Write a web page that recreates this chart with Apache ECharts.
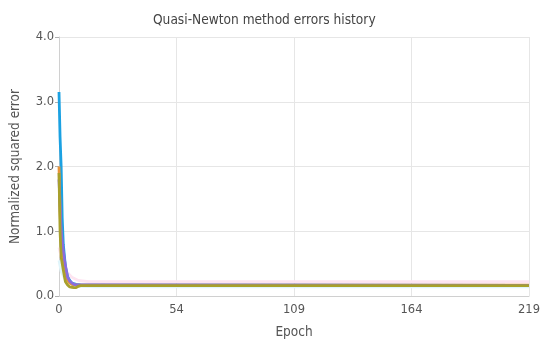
<!DOCTYPE html>
<html>
<head>
<meta charset="utf-8">
<script src="https://cdn.jsdelivr.net/npm/echarts@6/dist/echarts.min.js"></script>
<style>html,body{margin:0;padding:0;background:#fff}#c{width:550px;height:349px}</style>
</head>
<body>
<div id="c"></div>
<script>
var xTickLabels = ['0', '54', '109', '164', '219'];
var yTickLabels = ['0.0', '1.0', '2.0', '3.0', '4.0'];

var pinkX = [0, 1, 2, 4, 6, 9, 14, 219];
var pinkY = [0.75, 0.6, 0.48, 0.36, 0.29, 0.24, 0.22, 0.22];
var cyanX = [0, 1, 3, 6, 10, 18, 219];
var cyanY = [0.55, 0.38, 0.24, 0.18, 0.15, 0.14, 0.14];
var blueX = [0, 0.5, 1, 1.5, 2, 3, 4, 5, 6, 8, 10, 219];
var blueY = [3.15, 2.45, 2.0, 1.2, 0.8, 0.45, 0.3, 0.24, 0.2, 0.18, 0.17, 0.165];
var orangeX = [0, 0.5, 1, 2, 3, 4, 5, 6, 8, 10, 219];
var orangeY = [2.0, 1.3, 0.9, 0.5, 0.32, 0.24, 0.2, 0.18, 0.17, 0.168, 0.168];
var purpleX = [0, 0.5, 1, 2, 2.6, 3.5, 4, 5, 6, 7, 8, 219];
var purpleY = [1.8, 1.4, 1.0, 0.7, 0.55, 0.38, 0.29, 0.23, 0.2, 0.18, 0.17, 0.165];
var oliveX = [0, 0.5, 1, 1.5, 2, 2.6, 3, 4, 5, 6, 7, 8, 9, 10, 219];
var oliveY = [1.9, 1.0, 0.6, 0.5, 0.4, 0.29, 0.22, 0.17, 0.14, 0.135, 0.13, 0.13, 0.15, 0.16, 0.16];

function pts(xs, ys) { return xs.map(function (x, i) { return [x, ys[i]]; }); }

var FONT = 'DejaVu Sans Condensed';
var chart = echarts.init(document.getElementById('c'), null, { renderer: 'canvas' });
function line(name, xs, ys, color, w) {
  return {
    name: name, type: 'line', data: pts(xs, ys), showSymbol: false, symbol: 'none',
    lineStyle: { color: color, width: w }, itemStyle: { color: color },
    animation: false
  };
}
chart.setOption({
  animation: false,
  title: {
    text: 'Quasi-Newton method errors history', left: 148, top: 8,
    textStyle: { fontFamily: FONT, fontSize: 13.6, fontWeight: 'normal', color: '#444' }
  },
  grid: { left: 58, right: 21, top: 37, bottom: 53 },
  xAxis: {
    type: 'value', min: 0, max: 219, interval: 54.75,
    name: 'Epoch', nameLocation: 'middle', nameGap: 29,
    nameTextStyle: { fontFamily: FONT, fontSize: 13.5, color: '#555' },
    axisLine: { show: true, lineStyle: { color: '#d0d0d0' } },
    axisTick: { show: false },
    axisLabel: {
      fontFamily: FONT, fontSize: 12.8, color: '#555', margin: 7,
      formatter: function (v) { return xTickLabels[Math.round(v / 54.75)]; }
    },
    splitLine: { show: true, lineStyle: { color: '#e6e6e6' } }
  },
  yAxis: {
    type: 'value', min: 0, max: 4, interval: 1,
    name: 'Normalized squared error', nameLocation: 'middle', nameGap: 37,
    nameTextStyle: { fontFamily: FONT, fontSize: 13.5, color: '#555' },
    axisLine: { show: true, lineStyle: { color: '#d0d0d0' } },
    axisTick: { show: true, length: 4, lineStyle: { color: '#b0b0b0' } },
    axisLabel: {
      fontFamily: FONT, fontSize: 12.8, color: '#555', margin: 5,
      formatter: function (v) { return yTickLabels[Math.round(v)]; }
    },
    splitLine: { show: true, lineStyle: { color: '#e6e6e6' } }
  },
  series: [
    line('pink', pinkX, pinkY, '#fde4f1', 2.8),
    line('cyan', cyanX, cyanY, '#e0f5fb', 2.8),
    line('blue', blueX, blueY, '#1ba1e2', 2.8),
    line('orange', orangeX, orangeY, '#e8953a', 2.8),
    line('purple', purpleX, purpleY, '#8a6ddc', 2.8),
    line('olive', oliveX, oliveY, '#a8a02c', 2.8)
  ]
});
</script>
</body>
</html>
